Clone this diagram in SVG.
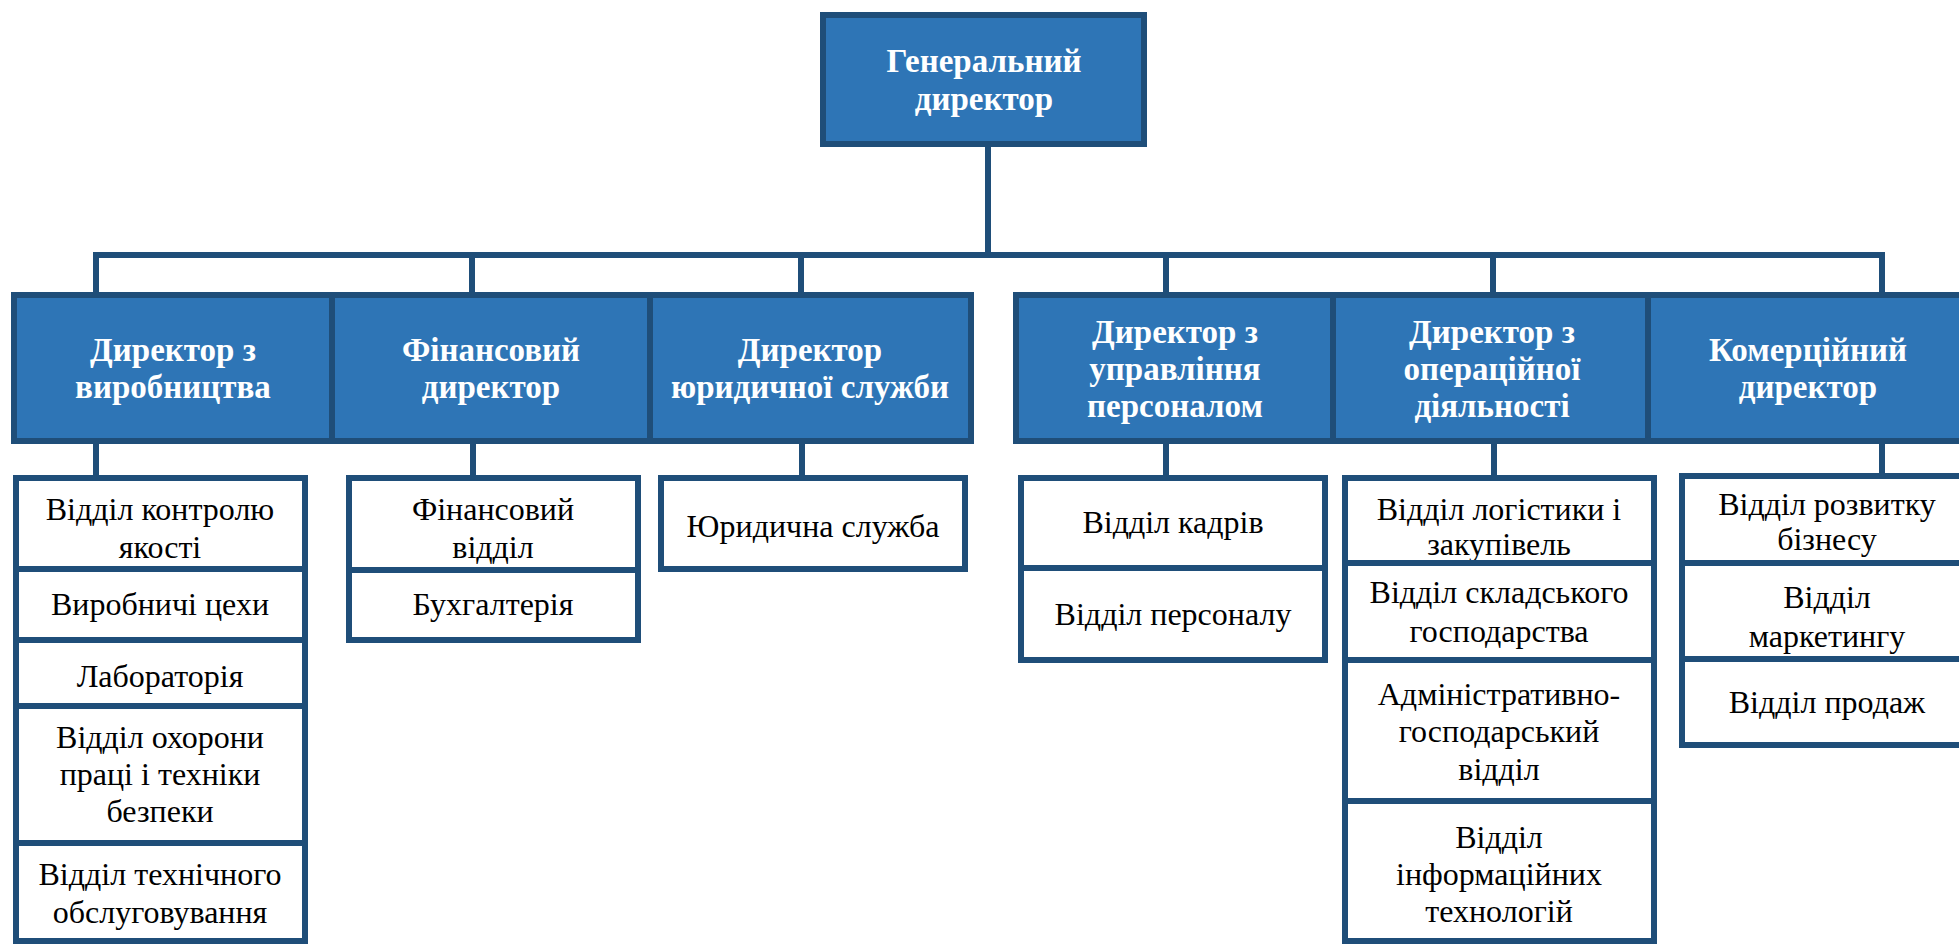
<svg xmlns="http://www.w3.org/2000/svg" width="1959" height="944" viewBox="0 0 1959 944">
<rect width="1959" height="944" fill="#FFFFFF"/>
<g id="connectors" fill="none" stroke="#1F4E79" stroke-width="6">
<path d="M988,147 V255"/>
<path d="M96,292 V255 H1882 V292"/>
<path d="M472,255 V292"/>
<path d="M801,255 V292"/>
<path d="M1166,255 V292"/>
<path d="M1493,255 V292"/>
<path d="M96,444 V475"/>
<path d="M473,444 V475"/>
<path d="M802,444 V475"/>
<path d="M1166,444 V475"/>
<path d="M1494,444 V475"/>
<path d="M1882,444 V473"/>
</g>
<g id="directors">
<g id="gen-director">
<rect x="823" y="15" width="321" height="129" fill="#2E75B6" stroke="#1F4E79" stroke-width="6"/>
<text x="984" y="72" font-family="Liberation Serif" font-weight="bold" font-size="33" fill="#FFFFFF" text-anchor="middle">Генеральний</text>
<text x="984" y="110" font-family="Liberation Serif" font-weight="bold" font-size="33" fill="#FFFFFF" text-anchor="middle">директор</text>
</g>
<g id="dir-production">
<rect x="14" y="295" width="318" height="146" fill="#2E75B6" stroke="#1F4E79" stroke-width="6"/>
<text x="173" y="361" font-family="Liberation Serif" font-weight="bold" font-size="33" fill="#FFFFFF" text-anchor="middle">Директор з</text>
<text x="173" y="398" font-family="Liberation Serif" font-weight="bold" font-size="33" fill="#FFFFFF" text-anchor="middle">виробництва</text>
</g>
<g id="dir-finance">
<rect x="332" y="295" width="318" height="146" fill="#2E75B6" stroke="#1F4E79" stroke-width="6"/>
<text x="491" y="361" font-family="Liberation Serif" font-weight="bold" font-size="33" fill="#FFFFFF" text-anchor="middle">Фінансовий</text>
<text x="491" y="398" font-family="Liberation Serif" font-weight="bold" font-size="33" fill="#FFFFFF" text-anchor="middle">директор</text>
</g>
<g id="dir-legal">
<rect x="650" y="295" width="321" height="146" fill="#2E75B6" stroke="#1F4E79" stroke-width="6"/>
<text x="810" y="361" font-family="Liberation Serif" font-weight="bold" font-size="33" fill="#FFFFFF" text-anchor="middle">Директор</text>
<text x="810" y="398" font-family="Liberation Serif" font-weight="bold" font-size="33" fill="#FFFFFF" text-anchor="middle">юридичної служби</text>
</g>
<g id="dir-hr">
<rect x="1016" y="295" width="317" height="146" fill="#2E75B6" stroke="#1F4E79" stroke-width="6"/>
<text x="1175" y="343" font-family="Liberation Serif" font-weight="bold" font-size="33" fill="#FFFFFF" text-anchor="middle">Директор з</text>
<text x="1175" y="380" font-family="Liberation Serif" font-weight="bold" font-size="33" fill="#FFFFFF" text-anchor="middle">управління</text>
<text x="1175" y="417" font-family="Liberation Serif" font-weight="bold" font-size="33" fill="#FFFFFF" text-anchor="middle">персоналом</text>
</g>
<g id="dir-ops">
<rect x="1333" y="295" width="315" height="146" fill="#2E75B6" stroke="#1F4E79" stroke-width="6"/>
<text x="1492" y="343" font-family="Liberation Serif" font-weight="bold" font-size="33" fill="#FFFFFF" text-anchor="middle">Директор з</text>
<text x="1492" y="380" font-family="Liberation Serif" font-weight="bold" font-size="33" fill="#FFFFFF" text-anchor="middle">операційної</text>
<text x="1492" y="417" font-family="Liberation Serif" font-weight="bold" font-size="33" fill="#FFFFFF" text-anchor="middle">діяльності</text>
</g>
<g id="dir-commercial">
<rect x="1648" y="295" width="327" height="146" fill="#2E75B6" stroke="#1F4E79" stroke-width="6"/>
<text x="1808" y="361" font-family="Liberation Serif" font-weight="bold" font-size="33" fill="#FFFFFF" text-anchor="middle">Комерційний</text>
<text x="1808" y="398" font-family="Liberation Serif" font-weight="bold" font-size="33" fill="#FFFFFF" text-anchor="middle">директор</text>
</g>
</g>
<g id="departments">
<g id="quality">
<rect x="16" y="478" width="289" height="91" fill="#FFFFFF" stroke="#1F4E79" stroke-width="6"/>
<text x="160" y="520" font-family="Liberation Serif" font-size="32" fill="#000000" text-anchor="middle">Відділ контролю</text>
<text x="160" y="558" font-family="Liberation Serif" font-size="32" fill="#000000" text-anchor="middle">якості</text>
</g>
<g id="workshops">
<rect x="16" y="569" width="289" height="71" fill="#FFFFFF" stroke="#1F4E79" stroke-width="6"/>
<text x="160" y="615" font-family="Liberation Serif" font-size="32" fill="#000000" text-anchor="middle">Виробничі цехи</text>
</g>
<g id="lab">
<rect x="16" y="640" width="289" height="66" fill="#FFFFFF" stroke="#1F4E79" stroke-width="6"/>
<text x="160" y="687" font-family="Liberation Serif" font-size="32" fill="#000000" text-anchor="middle">Лабораторія</text>
</g>
<g id="safety">
<rect x="16" y="706" width="289" height="137" fill="#FFFFFF" stroke="#1F4E79" stroke-width="6"/>
<text x="160" y="748" font-family="Liberation Serif" font-size="32" fill="#000000" text-anchor="middle">Відділ охорони</text>
<text x="160" y="785" font-family="Liberation Serif" font-size="32" fill="#000000" text-anchor="middle">праці і техніки</text>
<text x="160" y="822" font-family="Liberation Serif" font-size="32" fill="#000000" text-anchor="middle">безпеки</text>
</g>
<g id="maintenance">
<rect x="16" y="843" width="289" height="98" fill="#FFFFFF" stroke="#1F4E79" stroke-width="6"/>
<text x="160" y="885" font-family="Liberation Serif" font-size="32" fill="#000000" text-anchor="middle">Відділ технічного</text>
<text x="160" y="923" font-family="Liberation Serif" font-size="32" fill="#000000" text-anchor="middle">обслуговування</text>
</g>
<g id="fin-dept">
<rect x="349" y="478" width="289" height="92" fill="#FFFFFF" stroke="#1F4E79" stroke-width="6"/>
<text x="493" y="520" font-family="Liberation Serif" font-size="32" fill="#000000" text-anchor="middle">Фінансовий</text>
<text x="493" y="558" font-family="Liberation Serif" font-size="32" fill="#000000" text-anchor="middle">відділ</text>
</g>
<g id="accounting">
<rect x="349" y="570" width="289" height="70" fill="#FFFFFF" stroke="#1F4E79" stroke-width="6"/>
<text x="493" y="615" font-family="Liberation Serif" font-size="32" fill="#000000" text-anchor="middle">Бухгалтерія</text>
</g>
<g id="legal-service">
<rect x="661" y="478" width="304" height="91" fill="#FFFFFF" stroke="#1F4E79" stroke-width="6"/>
<text x="813" y="537" font-family="Liberation Serif" font-size="32" fill="#000000" text-anchor="middle">Юридична служба</text>
</g>
<g id="personnel-records">
<rect x="1021" y="478" width="304" height="90" fill="#FFFFFF" stroke="#1F4E79" stroke-width="6"/>
<text x="1173" y="533" font-family="Liberation Serif" font-size="32" fill="#000000" text-anchor="middle">Відділ кадрів</text>
</g>
<g id="personnel">
<rect x="1021" y="568" width="304" height="92" fill="#FFFFFF" stroke="#1F4E79" stroke-width="6"/>
<text x="1173" y="625" font-family="Liberation Serif" font-size="32" fill="#000000" text-anchor="middle">Відділ персоналу</text>
</g>
<g id="logistics">
<rect x="1345" y="478" width="309" height="85" fill="#FFFFFF" stroke="#1F4E79" stroke-width="6"/>
<text x="1499" y="520" font-family="Liberation Serif" font-size="32" fill="#000000" text-anchor="middle">Відділ логістики і</text>
<text x="1499" y="555" font-family="Liberation Serif" font-size="32" fill="#000000" text-anchor="middle">закупівель</text>
</g>
<g id="warehouse">
<rect x="1345" y="563" width="309" height="97" fill="#FFFFFF" stroke="#1F4E79" stroke-width="6"/>
<text x="1499" y="603" font-family="Liberation Serif" font-size="32" fill="#000000" text-anchor="middle">Відділ складського</text>
<text x="1499" y="642" font-family="Liberation Serif" font-size="32" fill="#000000" text-anchor="middle">господарства</text>
</g>
<g id="admin">
<rect x="1345" y="660" width="309" height="141" fill="#FFFFFF" stroke="#1F4E79" stroke-width="6"/>
<text x="1499" y="705" font-family="Liberation Serif" font-size="32" fill="#000000" text-anchor="middle">Адміністративно-</text>
<text x="1499" y="742" font-family="Liberation Serif" font-size="32" fill="#000000" text-anchor="middle">господарський</text>
<text x="1499" y="780" font-family="Liberation Serif" font-size="32" fill="#000000" text-anchor="middle">відділ</text>
</g>
<g id="it">
<rect x="1345" y="801" width="309" height="140" fill="#FFFFFF" stroke="#1F4E79" stroke-width="6"/>
<text x="1499" y="848" font-family="Liberation Serif" font-size="32" fill="#000000" text-anchor="middle">Відділ</text>
<text x="1499" y="885" font-family="Liberation Serif" font-size="32" fill="#000000" text-anchor="middle">інформаційних</text>
<text x="1499" y="922" font-family="Liberation Serif" font-size="32" fill="#000000" text-anchor="middle">технологій</text>
</g>
<g id="bizdev">
<rect x="1682" y="476" width="300" height="87" fill="#FFFFFF" stroke="#1F4E79" stroke-width="6"/>
<text x="1827" y="515" font-family="Liberation Serif" font-size="32" fill="#000000" text-anchor="middle">Відділ розвитку</text>
<text x="1827" y="550" font-family="Liberation Serif" font-size="32" fill="#000000" text-anchor="middle">бізнесу</text>
</g>
<g id="marketing">
<rect x="1682" y="563" width="300" height="96" fill="#FFFFFF" stroke="#1F4E79" stroke-width="6"/>
<text x="1827" y="608" font-family="Liberation Serif" font-size="32" fill="#000000" text-anchor="middle">Відділ</text>
<text x="1827" y="647" font-family="Liberation Serif" font-size="32" fill="#000000" text-anchor="middle">маркетингу</text>
</g>
<g id="sales">
<rect x="1682" y="659" width="300" height="86" fill="#FFFFFF" stroke="#1F4E79" stroke-width="6"/>
<text x="1827" y="713" font-family="Liberation Serif" font-size="32" fill="#000000" text-anchor="middle">Відділ продаж</text>
</g>
</g>
</svg>
